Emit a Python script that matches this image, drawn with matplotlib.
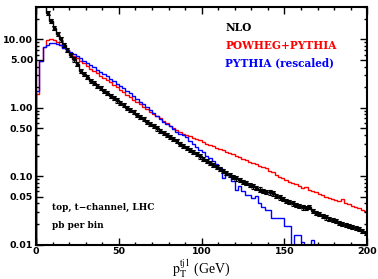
import numpy as np
import matplotlib
matplotlib.use('Agg')
import matplotlib.pyplot as plt
from matplotlib.ticker import FixedLocator, FixedFormatter, MultipleLocator, LogLocator, NullFormatter

# 2 GeV bins from 0 to 200
edges = np.arange(0, 202, 2)

nlo = [120, 60, 36, 24, 18.5, 14.5, 12, 10, 8.3, 7.1,
       6.0, 5.1, 4.4, 3.5, 3.1, 2.8, 2.5, 2.3, 2.1, 1.93,
       1.78, 1.64, 1.51, 1.39, 1.28, 1.18, 1.09, 1.0, 0.93, 0.86,
       0.79, 0.73, 0.68, 0.63, 0.58, 0.54, 0.50, 0.465, 0.43, 0.40,
       0.375, 0.35, 0.325, 0.30, 0.28, 0.26, 0.24, 0.225, 0.21, 0.195,
       0.18, 0.168, 0.157, 0.147, 0.138, 0.128, 0.12, 0.112, 0.105, 0.099,
       0.093, 0.088, 0.083, 0.079, 0.075, 0.071, 0.067, 0.064, 0.061, 0.059,
       0.058, 0.056, 0.052, 0.049, 0.046, 0.044, 0.042, 0.040, 0.038, 0.037,
       0.035, 0.034, 0.036, 0.031, 0.029, 0.028, 0.026, 0.025, 0.024, 0.023,
       0.022, 0.021, 0.020, 0.0195, 0.019, 0.018, 0.0175, 0.017, 0.016, 0.015]

powheg = [1.6, 4.8, 7.7, 9.8, 10.2, 9.8, 9.1, 8.4, 7.6, 7.0,
          6.4, 5.8, 5.3, 4.9, 4.5, 4.1, 3.75, 3.45, 3.2, 2.95,
          2.75, 2.55, 2.35, 2.15, 1.98, 1.82, 1.68, 1.55, 1.42, 1.32,
          1.22, 1.12, 1.03, 0.95, 0.88, 0.81, 0.75, 0.70, 0.64, 0.59,
          0.55, 0.51, 0.47, 0.44, 0.42, 0.40, 0.385, 0.365, 0.35, 0.335,
          0.32, 0.30, 0.29, 0.275, 0.26, 0.25, 0.24, 0.225, 0.215, 0.21,
          0.20, 0.19, 0.18, 0.172, 0.163, 0.155, 0.15, 0.14, 0.135, 0.13,
          0.12, 0.115, 0.105, 0.098, 0.094, 0.088, 0.082, 0.080, 0.076, 0.072,
          0.068, 0.070, 0.063, 0.060, 0.058, 0.055, 0.053, 0.050, 0.048, 0.046,
          0.045, 0.043, 0.046, 0.040, 0.039, 0.037, 0.036, 0.034, 0.032, 0.031]

pythia = [1.75, 4.8, 7.7, 8.4, 8.7, 8.7, 8.45, 8.2, 7.5, 7.0,
          6.6, 6.2, 5.7, 5.3, 4.9, 4.55, 4.2, 3.9, 3.6, 3.35,
          3.1, 2.9, 2.65, 2.45, 2.25, 2.1, 1.95, 1.78, 1.62, 1.48,
          1.35, 1.22, 1.12, 1.02, 0.93, 0.84, 0.76, 0.68, 0.63, 0.58,
          0.54, 0.49, 0.45, 0.42, 0.40, 0.37, 0.33, 0.30, 0.27, 0.245,
          0.225, 0.20, 0.185, 0.165, 0.15, 0.134, 0.095, 0.105, 0.105, 0.084,
          0.064, 0.073, 0.060, 0.054, 0.054, 0.048, 0.051, 0.041, 0.036, 0.032,
          0.032, 0.0245, 0.0245, 0.0245, 0.0245, 0.0185, 0.0185, 1e-4, 0.0137, 0.0137,
          0.011, 1e-4, 1e-4, 0.0118, 1e-4, 1e-4, 1e-4, 1e-4, 1e-4, 1e-4,
          1e-4, 1e-4, 1e-4, 1e-4, 1e-4, 1e-4, 1e-4, 1e-4, 1e-4, 1e-4]

ytick_vals = [0.01, 0.05, 0.1, 0.5, 1, 5, 10]
ytick_labels = ["0.01", "0.05", "0.10", "0.50", "1.00", "5.00", "10.00"]
xtick_vals = [0, 50, 100, 150, 200]

plt.rcParams['mathtext.fontset'] = 'stix'

fig = plt.figure(figsize=(3.78, 2.79), dpi=100)
ax = fig.add_axes([0.0952, 0.123, 0.8765, 0.853])

centers = 0.5 * (edges[:-1] + edges[1:])
nlo = np.array(nlo)
ax.stairs(nlo, edges, baseline=1e-4, color='black', lw=1.0)
ax.errorbar(centers, nlo, yerr=0.07 * nlo, fmt='none', ecolor='black',
            elinewidth=0.8, capsize=1.3, capthick=0.8)
ax.plot(centers, nlo, 'x', color='black', ms=2.5, mew=0.8)
ax.stairs(powheg, edges, baseline=1e-4, color='red', lw=1.0)
ax.stairs(pythia, edges, baseline=1e-4, color='blue', lw=1.0)

ax.set_yscale('log')
ax.set_xlim(0, 200)
ax.set_ylim(0.01, 30)

ax.yaxis.set_major_locator(FixedLocator(ytick_vals))
ax.yaxis.set_major_formatter(FixedFormatter(ytick_labels))
ax.yaxis.set_minor_locator(LogLocator(subs=[2, 3, 4, 6, 7, 8, 9]))
ax.yaxis.set_minor_formatter(NullFormatter())
ax.xaxis.set_major_locator(FixedLocator(xtick_vals))
ax.xaxis.set_minor_locator(MultipleLocator(10))

ax.tick_params(which='both', direction='in', top=True, right=True, width=1.0)
ax.tick_params(which='major', length=5, labelsize=6.8, pad=2)
ax.tick_params(which='minor', length=2.5)
for lab in ax.get_xticklabels() + ax.get_yticklabels():
    lab.set_fontweight('bold')
for s in ax.spines.values():
    s.set_linewidth(1.5)

ax.set_xlabel(r'$\mathrm{p_T^{tj1}}$ (GeV)', fontsize=10, family='Liberation Serif')
ax.xaxis.set_label_coords(0.5, -0.055, transform=ax.transAxes)
ax.xaxis.label.set_va('top')

lfont = dict(family='DejaVu Serif', fontsize=7.6, fontweight='bold', transform=ax.transAxes)
ax.text(0.572, 0.897, 'NLO', color='black', **lfont)
ax.text(0.572, 0.824, 'POWHEG+PYTHIA', color='red', **lfont)
ax.text(0.572, 0.750, 'PYTHIA (rescaled)', color='blue', **lfont)
bfont = dict(family='DejaVu Serif', fontsize=6.5, fontweight='bold', transform=ax.transAxes)
ax.text(0.048, 0.145, 'top, t\u2212channel, LHC', color='black', **bfont)
ax.text(0.048, 0.072, 'pb per bin', color='black', **bfont)

plt.savefig('out.png', dpi=100)
plt.close()
